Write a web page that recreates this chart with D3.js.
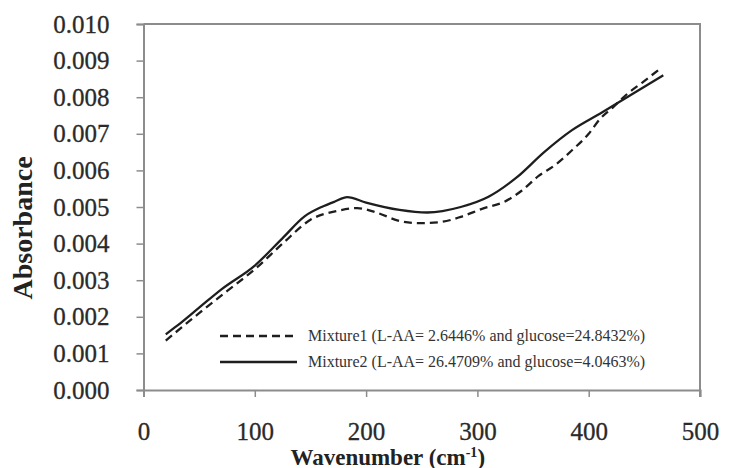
<!DOCTYPE html>
<html>
<head>
<meta charset="utf-8">
<script src="https://cdn.jsdelivr.net/npm/d3@7"></script>
<style>
  body { margin: 0; background: #fff; }
  svg { display: block; }
  text { font-family: "Liberation Serif", "Times New Roman", serif; }
</style>
</head>
<body>
<div id="chart"></div>
<script>
var width = 747,
    height = 468;

// wavenumber / absorbance
var mix1X = [20, 50, 75, 100, 125, 150, 175, 192, 210, 230, 248, 267, 285, 306, 324, 340, 355, 370, 385, 400, 410, 422, 435, 449, 465];
var mix1Y = [0.00135, 0.0021, 0.0027, 0.0033, 0.0040, 0.00465, 0.0049, 0.00497, 0.00484, 0.00462, 0.00456, 0.00459, 0.00473, 0.00497, 0.00514, 0.00545, 0.00585, 0.00615, 0.00655, 0.0070, 0.0074, 0.00773, 0.0081, 0.00842, 0.0088];

var mix2X = [20, 30, 50, 70, 100, 125, 145, 160, 172, 183, 200, 230, 255, 285, 310, 335, 360, 385, 410, 440, 467];
var mix2Y = [0.00152, 0.00175, 0.00225, 0.00275, 0.0034, 0.00415, 0.00475, 0.0050, 0.00515, 0.00527, 0.00512, 0.00492, 0.00485, 0.0050, 0.00528, 0.0058, 0.0065, 0.0071, 0.00755, 0.0081, 0.0086];

var xTicks = [0, 100, 200, 300, 400, 500];
var yTicks = [0, 0.001, 0.002, 0.003, 0.004, 0.005, 0.006, 0.007, 0.008, 0.009, 0.010];

var legendLabels = ["Mixture1 (L-AA= 2.6446% and glucose=24.8432%)",
                    "Mixture2 (L-AA= 26.4709% and glucose=4.0463%)"];

var margin = {top: 24, right: 47, bottom: 78, left: 143.5};

var svg = d3.select("#chart")
    .append("svg")
    .attr("width", width)
    .attr("height", height);

var x = d3.scaleLinear()
    .domain([0, 500])
    .range([margin.left, width - margin.right]);

var y = d3.scaleLinear()
    .domain([0, 0.010])
    .range([height - margin.bottom, margin.top]);

// frame (top + right)
svg.append("path")
    .attr("d", "M" + x(0) + "," + y(0.010) + "H" + x(500) + "V" + (y(0) + 7))
    .attr("fill", "none")
    .attr("stroke", "#8c8c8c")
    .attr("stroke-width", 2);

var yAxis = svg.append("g")
    .attr("transform", "translate(" + x(0) + ",0)")
    .call(d3.axisLeft(y).tickValues(yTicks).tickFormat(d3.format(".3f")).tickSize(7).tickPadding(27));

var xAxis = svg.append("g")
    .attr("transform", "translate(0," + y(0) + ")")
    .call(d3.axisBottom(x).tickValues(xTicks).tickSize(7).tickPadding(25));

[yAxis, xAxis].forEach(function (g) {
    g.attr("font-family", "Liberation Serif, serif")
        .attr("font-size", 25);
    g.select(".domain").attr("stroke", "#8c8c8c").attr("stroke-width", 2);
    g.selectAll(".tick line").attr("stroke", "#8c8c8c").attr("stroke-width", 1.5);
    g.selectAll(".tick text")
        .attr("fill", "#2a2a2a")
        .attr("stroke", "#2a2a2a")
        .attr("stroke-width", 0.3);
});

var line = d3.line()
    .x(function (d) { return x(d[0]); })
    .y(function (d) { return y(d[1]); })
    .curve(d3.curveMonotoneX);

var mix1 = mix1X.map(function (v, i) { return [v, mix1Y[i]]; });
var mix2 = mix2X.map(function (v, i) { return [v, mix2Y[i]]; });

svg.append("path")
    .datum(mix1)
    .attr("d", line)
    .attr("fill", "none")
    .attr("stroke", "#1e1e1e")
    .attr("stroke-width", 2.3)
    .attr("stroke-dasharray", "8,5");

svg.append("path")
    .datum(mix2)
    .attr("d", line)
    .attr("fill", "none")
    .attr("stroke", "#1e1e1e")
    .attr("stroke-width", 2.3);

// legend
var legend = svg.append("g");
var dashes = ["8,5", null];
legendLabels.forEach(function (label, i) {
    var ly = 336 + i * 26;
    legend.append("line")
        .attr("x1", 220).attr("x2", 297)
        .attr("y1", ly).attr("y2", ly)
        .attr("stroke", "#1e1e1e")
        .attr("stroke-width", 2.3)
        .attr("stroke-dasharray", dashes[i]);
    legend.append("text")
        .attr("x", 308)
        .attr("y", ly + 5)
        .attr("fill", "#333")
        .style("font-size", "16px")
        .text(label);
});

// axis titles
var xTitle = svg.append("text")
    .attr("x", (x(0) + x(500)) / 2 - 34)
    .attr("y", 465)
    .attr("text-anchor", "middle")
    .attr("fill", "#222")
    .style("font-size", "23px")
    .style("font-weight", "bold");
xTitle.append("tspan").text("Wavenumber (cm");
xTitle.append("tspan").attr("dy", -8).style("font-size", "14px").text("-1");
xTitle.append("tspan").attr("dy", 8).text(")");

svg.append("text")
    .attr("transform", "translate(32,228) rotate(-90)")
    .attr("text-anchor", "middle")
    .attr("fill", "#222")
    .style("font-size", "28px")
    .style("font-weight", "bold")
    .text("Absorbance");
</script>
</body>
</html>
